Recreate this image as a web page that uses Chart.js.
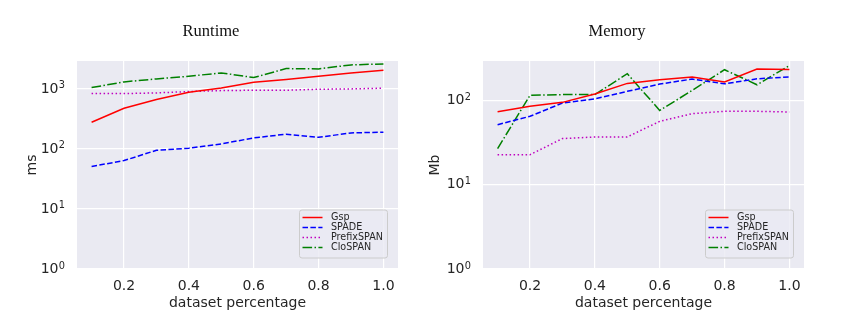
<!DOCTYPE html>
<html>
<head>
<meta charset="utf-8">
<script src="https://cdn.jsdelivr.net/npm/chart.js@4.4.1/dist/chart.umd.min.js"></script>
<style>
  body { margin: 0; background: #fff; }
  #wrap { position: relative; width: 841px; height: 331px; overflow: hidden; }
  canvas { position: absolute; top: 0; }
  .ttl { position: absolute; top: 20px; width: 160px; height: 22px; line-height: 22px;
         text-align: center; font-family: "Liberation Serif", "DejaVu Serif", serif;
         font-size: 16.5px; color: #111; }
</style>
</head>
<body>
<div id="wrap">
  <canvas id="leftChart" width="420" height="331" style="left:0;width:420px;height:331px"></canvas>
  <canvas id="rightChart" width="421" height="331" style="left:420px;width:421px;height:331px"></canvas>
  <div class="ttl" style="left:131px">Runtime</div>
  <div class="ttl" style="left:537px">Memory</div>
</div>
<script>
"use strict";

/*global Chart*/

var fractions = [0.1, 0.2, 0.3, 0.4, 0.5, 0.6, 0.7, 0.8, 0.9, 1.0],
    xTicks = [0.2, 0.4, 0.6, 0.8, 1.0],
    runtimeTicks = [1, 10, 100, 1000],
    memoryTicks = [1, 10, 100];

// runtime, ms
var runtimeGsp = [278, 476, 664, 880, 1040, 1291, 1431, 1626, 1848, 2047],
    runtimeSpade = [51, 64, 95, 103, 121, 153, 176, 156, 185, 190],
    runtimePrefix = [836, 836, 858, 903, 938, 950, 950, 987, 1000, 1026],
    runtimeClo = [1052, 1309, 1468, 1626, 1848, 1545, 2182, 2154, 2512, 2610];

// memory, Mb
var memoryGsp = [73.5, 85, 94.7, 119, 159, 176, 189, 165, 235, 233],
    memorySpade = [51.5, 64.7, 93, 104, 128, 156, 179, 157, 180, 190],
    memoryPrefix = [22.7, 22.7, 35.2, 36.8, 36.8, 56.4, 69.5, 74.2, 74.2, 72.8],
    memoryClo = [26.8, 115, 117, 117, 207, 76, 131, 231, 153, 259];

var seriesNames = ['Gsp', 'SPADE', 'PrefixSPAN', 'CloSPAN'];

Chart.defaults.font.family = "'DejaVu Sans', sans-serif";
Chart.defaults.color = '#262626';

var EXP_ROOM = 7.5;

var background = {
    id: 'background',
    beforeDraw: function (chart) {
        var a = chart.chartArea, ctx = chart.ctx;
        ctx.save();
        ctx.fillStyle = '#eaeaf2';
        ctx.fillRect(a.left, a.top, a.right - a.left, a.bottom - a.top);
        ctx.restore();
    }
};

// exponents of the log tick labels, drawn as superscripts after "10"
var exponents = {
    id: 'exponents',
    afterDraw: function (chart) {
        var scale = chart.scales.y, ctx = chart.ctx,
            x = chart.chartArea.left - 11 - EXP_ROOM + 0.3;
        ctx.save();
        ctx.font = "9.8px 'DejaVu Sans'";
        ctx.fillStyle = '#262626';
        ctx.textAlign = 'left';
        ctx.textBaseline = 'alphabetic';
        scale.ticks.forEach(function (t) {
            var y = scale.getPixelForValue(t.value);
            ctx.fillText(String(Math.round(Math.log10(t.value))), x, y - 0.5);
        });
        ctx.restore();
    }
};

// legend drawn inside the plot, lower right, like matplotlib
var innerLegend = {
    id: 'innerLegend',
    afterDraw: function (chart) {
        var a = chart.chartArea, ctx = chart.ctx,
            w = 88, h = 48,
            x0 = a.right - 11 - w, y0 = a.bottom - 11.5 - h;
        ctx.save();
        ctx.beginPath();
        ctx.roundRect(x0 + 0.5, y0 + 0.5, w, h, 2.5);
        ctx.fillStyle = 'rgba(234,234,242,0.8)';
        ctx.fill();
        ctx.strokeStyle = '#cccccc';
        ctx.lineWidth = 1;
        ctx.stroke();
        ctx.font = "9.6px 'DejaVu Sans'";
        ctx.textBaseline = 'middle';
        ctx.fillStyle = '#262626';
        chart.data.datasets.forEach(function (ds, i) {
            var y = y0 + 8 + i * 10;
            ctx.beginPath();
            ctx.setLineDash(ds.borderDash || []);
            ctx.strokeStyle = ds.borderColor;
            ctx.lineWidth = ds.borderWidth;
            ctx.moveTo(x0 + 3.5, y);
            ctx.lineTo(x0 + 23.5, y);
            ctx.stroke();
            ctx.fillText(ds.label, x0 + 32, y);
        });
        ctx.restore();
    }
};

var makeChart = function (options) {
    var styles = [
        {color: '#ff0000', dash: []},
        {color: '#0000ff', dash: [5.5, 2.4]},
        {color: '#bf00bf', dash: [1.5, 2.5]},
        {color: '#008000', dash: [9.6, 2.4, 1.5, 2.4]}
    ];
    var datasets = options.series.map(function (values, i) {
        return {
            label: seriesNames[i],
            data: values.map(function (v, j) { return {x: fractions[j], y: v}; }),
            borderColor: styles[i].color,
            borderDash: styles[i].dash,
            borderWidth: 1.5,
            pointRadius: 0,
            fill: false,
            tension: 0
        };
    });
    return new Chart(document.getElementById(options.canvas), {
        type: 'line',
        data: {datasets: datasets},
        plugins: [background, exponents, innerLegend],
        options: {
            responsive: false,
            animation: false,
            layout: {padding: {left: 0, top: 61, right: options.padRight, bottom: 0}},
            plugins: {legend: {display: false}, tooltip: {enabled: false}},
            scales: {
                x: {
                    type: 'linear',
                    min: 0.055,
                    max: 1.045,
                    afterBuildTicks: function (scale) {
                        scale.ticks = xTicks.map(function (v) { return {value: v}; });
                    },
                    afterFit: function (scale) { scale.height = 62; },
                    ticks: {
                        padding: 8.5,
                        font: {size: 14},
                        callback: function (v) { return v.toFixed(1); }
                    },
                    grid: {color: '#ffffff', lineWidth: 1.2, drawTicks: false},
                    border: {display: false},
                    title: {
                        display: true,
                        text: 'dataset percentage',
                        font: {size: 14},
                        padding: {top: 0, bottom: 19.6}
                    }
                },
                y: {
                    type: 'logarithmic',
                    min: 1,
                    max: options.yMax,
                    afterBuildTicks: function (scale) {
                        scale.ticks = options.yTicks.map(function (v) { return {value: v}; });
                    },
                    afterFit: function (scale) { scale.width = options.yWidth; },
                    ticks: {
                        padding: 11 + EXP_ROOM,
                        font: {size: 14},
                        callback: function () { return '10'; }
                    },
                    grid: {color: '#ffffff', lineWidth: 1.2, drawTicks: false},
                    border: {display: false},
                    title: {
                        display: true,
                        text: options.yLabel,
                        font: {size: 14},
                        padding: {top: options.yTitlePad, bottom: 0}
                    }
                }
            }
        }
    });
};

makeChart({
    canvas: 'leftChart',
    series: [runtimeGsp, runtimeSpade, runtimePrefix, runtimeClo],
    yTicks: runtimeTicks,
    yMax: 2917,
    yLabel: 'ms',
    yWidth: 77,
    yTitlePad: 24.3,
    padRight: 22
});

makeChart({
    canvas: 'rightChart',
    series: [memoryGsp, memorySpade, memoryPrefix, memoryClo],
    yTicks: memoryTicks,
    yMax: 293,
    yLabel: 'Mb',
    yWidth: 63,
    yTitlePad: 6.6,
    padRight: 37
});
</script>
</body>
</html>
